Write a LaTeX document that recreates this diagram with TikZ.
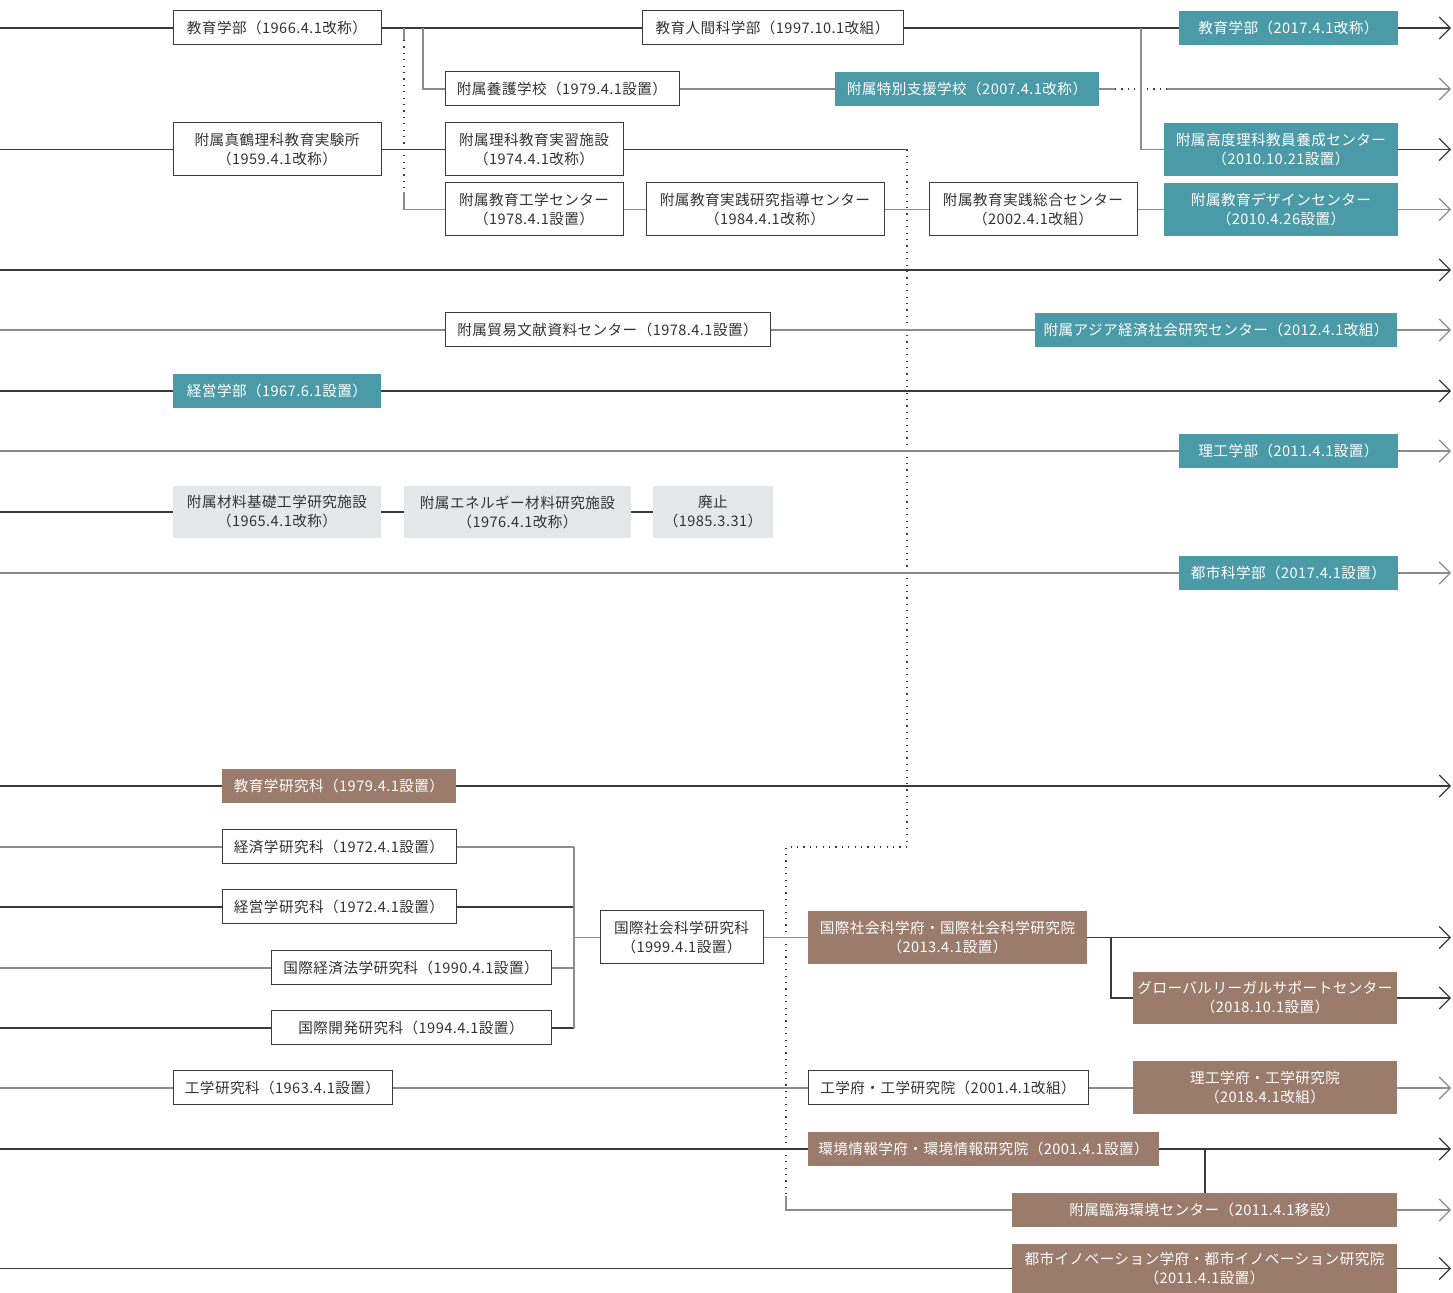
\documentclass[tikz,border=0pt]{standalone}
\usepackage{fontspec}
\setmainfont{Noto Sans CJK JP}[LetterSpace=3]
\usepackage{xcolor}
\definecolor{TealBox}{HTML}{4B9AA7}
\definecolor{BrownBox}{HTML}{9A7B6C}
\definecolor{GreyBox}{HTML}{E6E7E8}
\definecolor{InkDark}{HTML}{3A3A3A}
\definecolor{InkGrey}{HTML}{8C8C8C}
\definecolor{TextDark}{HTML}{333333}
\usepackage{tikz}
\usetikzlibrary{arrows.meta,positioning}

\begin{document}
\begin{tikzpicture}[
  x=0.5pt,y=-0.5pt,
  box/.style={align=center,font=\fontsize{7.3}{9.5}\selectfont,inner sep=0pt,minimum height=17pt},
  wbox/.style={box,draw=InkDark,fill=white,text=TextDark,line width=0.5pt},
  tbox/.style={box,fill=TealBox,text=white},
  bbox/.style={box,fill=BrownBox,text=white},
  gbox/.style={box,fill=GreyBox,text=TextDark},
  tall/.style={minimum height=26.5pt},
  dk/.style={line width=0.55pt,InkDark},
  gy/.style={line width=0.55pt,InkGrey},
  arr/.style={-{Straight Barb[length=5.5pt,width=11pt]}},
  dots/.style={line width=0.7pt,InkDark,dash pattern=on 0.6pt off 2.6pt}
]
  \useasboundingbox (0,0) rectangle (1453,1293);
  \foreach \r/\y in {a/28,b/89,c/149.5,d/209.5,e/270,f/330,g/391,h/451,i/512,j/573,k/786,l/847,m/907,n/968,o/1028,p/937.5,q/998,r/1088,s/1149,t/1210,u/1268.5}{
    \coordinate (s\r) at (0,\y);
    \coordinate (e\r) at (1451,\y);
  }

  \node[wbox,minimum width=104pt] (n1966) at (277,28) {教育学部（1966.4.1改称）};
  \node[wbox,minimum width=130.5pt] (n1997) at (772.5,28) {教育人間科学部（1997.10.1改組）};
  \node[tbox,minimum width=109.5pt] (n2017) at (1288.5,28) {教育学部（2017.4.1改称）};
  \node[wbox,minimum width=117pt] (yogo) at (562,89) {附属養護学校（1979.4.1設置）};
  \node[tbox,minimum width=132pt] (tokubetsu) at (967,89) {附属特別支援学校（2007.4.1改称）};
  \node[tbox,tall,minimum width=117pt] (koudo) at (1281,149.5) {附属高度理科教員養成センター\\（2010.10.21設置）};
  \node[wbox,tall,minimum width=104pt] (manazuru) at (277,149.5) {附属真鶴理科教育実験所\\（1959.4.1改称）};
  \node[wbox,tall,minimum width=89pt] (rika) at (534,149.5) {附属理科教育実習施設\\（1974.4.1改称）};
  \node[wbox,tall,minimum width=89pt] (kougaku) at (534,209.5) {附属教育工学センター\\（1978.4.1設置）};
  \node[wbox,tall,minimum width=119pt] (jissen84) at (765,209.5) {附属教育実践研究指導センター\\（1984.4.1改称）};
  \node[wbox,tall,minimum width=104pt] (jissen02) at (1033,209.5) {附属教育実践総合センター\\（2002.4.1改組）};
  \node[tbox,tall,minimum width=117pt] (design) at (1281,209.5) {附属教育デザインセンター\\（2010.4.26設置）};
  \node[wbox,minimum width=162.5pt] (boeki) at (607.5,330) {附属貿易文献資料センター（1978.4.1設置）};
  \node[tbox,minimum width=181pt] (asia) at (1216,330) {附属アジア経済社会研究センター（2012.4.1改組）};
  \node[tbox,minimum width=104pt] (keiei) at (277,391) {経営学部（1967.6.1設置）};
  \node[tbox,minimum width=109.5pt] (riko) at (1288.5,451) {理工学部（2011.4.1設置）};
  \node[gbox,minimum height=26pt,minimum width=104pt] (zairyo) at (277,512) {附属材料基礎工学研究施設\\（1965.4.1改称）};
  \node[gbox,minimum height=26pt,minimum width=113.5pt] (energy) at (517.5,512) {附属エネルギー材料研究施設\\（1976.4.1改称）};
  \node[gbox,minimum height=26pt,minimum width=60pt] (haishi) at (713,512) {廃止\\（1985.3.31）};
  \node[tbox,minimum width=109.5pt] (toshi) at (1288.5,573) {都市科学部（2017.4.1設置）};

  \node[bbox,minimum width=117pt] (kyoken) at (339,786) {教育学研究科（1979.4.1設置）};
  \node[wbox,minimum width=117pt] (keizaiken) at (339,847) {経済学研究科（1972.4.1設置）};
  \node[wbox,minimum width=117pt] (keieiken) at (339,907) {経営学研究科（1972.4.1設置）};
  \node[wbox,minimum width=140pt] (kokuhou) at (411,968) {国際経済法学研究科（1990.4.1設置）};
  \node[wbox,minimum width=140pt] (kaihatsu) at (411,1028) {国際開発研究科（1994.4.1設置）};
  \node[wbox,tall,minimum width=81.5pt] (kokushaken) at (681.5,937.5) {国際社会科学研究科\\（1999.4.1設置）};
  \node[bbox,tall,minimum width=139.5pt] (kokushafu) at (947.5,937.5) {国際社会科学府・国際社会科学研究院\\（2013.4.1設置）};
  \node[bbox,minimum height=26pt,minimum width=132pt] (global) at (1265,998) {グローバルリーガルサポートセンター\\（2018.10.1設置）};
  \node[wbox,minimum width=109.5pt] (kougakuken) at (282.5,1088) {工学研究科（1963.4.1設置）};
  \node[wbox,minimum width=140pt] (kougakufu) at (948,1088) {工学府・工学研究院（2001.4.1改組）};
  \node[bbox,tall,minimum width=132pt] (rikoufu) at (1265,1088) {理工学府・工学研究院\\（2018.4.1改組）};
  \node[bbox,minimum width=175.5pt] (kankyo) at (983.5,1149) {環境情報学府・環境情報研究院（2001.4.1設置）};
  \node[bbox,minimum width=192.5pt] (rinkai) at (1204.5,1210) {附属臨海環境センター（2011.4.1移設）};
  \node[bbox,minimum height=24.5pt,minimum width=192.5pt] (toshiinov) at (1204.5,1268.5) {都市イノベーション学府・都市イノベーション研究院\\（2011.4.1設置）};

  \coordinate (j1) at (423,28);
  \coordinate (j2) at (1141,28);
  \coordinate (j3) at (1111,937.5);
  \coordinate (j4) at (1205,1149);
  \coordinate (d0) at (404,28);
  \coordinate (d1) at (404,40);
  \coordinate (d2) at (404,192);
  \coordinate (t1) at (1115,89);
  \coordinate (t2) at (1167,89);
  \coordinate (k1) at (907,149.5);
  \coordinate (k2) at (907,847);
  \coordinate (k3) at (786,847);
  \coordinate (k4) at (786,1196);
  \coordinate (ml) at (574,847);
  \coordinate (mm) at (574,907);
  \coordinate (mn) at (574,968);
  \coordinate (mo) at (574,1028);
  \coordinate (mp) at (574,937.5);

  \draw[dk] (sa) -- (n1966) -- (n1997) -- (n2017);
  \draw[dk,arr] (n2017) -- (ea);
  \draw[gy] (j1) |- (yogo.west);
  \draw[gy] (yogo) -- (tokubetsu);
  \draw[gy] (tokubetsu.east) -- (t1);
  \draw[dots] (t1) -- (t2);
  \draw[gy,arr] (t2) -- (eb);
  \draw[gy] (j2) |- (koudo.west);
  \draw[dk,arr] (koudo) -- (ec);
  \draw[gy] (d0) -- (d1);
  \draw[dots] (d1) -- (d2);
  \draw[gy] (d2) |- (kougaku.west);

  \draw[dk] (sc) -- (manazuru) -- (rika);
  \draw[dk] (rika.east) -- (k1);
  \draw[dots] (k1) -- (k2) -- (k3) -- (k4);
  \draw[gy] (k4) |- (rinkai.west);

  \draw[gy] (kougaku) -- (jissen84) -- (jissen02) -- (design);
  \draw[gy,arr] (design) -- (ed);
  \draw[dk,arr] (se) -- (ee);
  \draw[gy] (sf) -- (boeki) -- (asia);
  \draw[gy,arr] (asia) -- (ef);
  \draw[dk] (sg) -- (keiei);
  \draw[dk,arr] (keiei) -- (eg);
  \draw[gy] (sh) -- (riko);
  \draw[gy,arr] (riko) -- (eh);
  \draw[dk] (si) -- (zairyo) -- (energy) -- (haishi);
  \draw[gy] (sj) -- (toshi);
  \draw[gy,arr] (toshi) -- (ej);

  \draw[dk] (sk) -- (kyoken);
  \draw[dk,arr] (kyoken) -- (ek);
  \draw[gy] (sl) -- (keizaiken) -- (ml);
  \draw[dk] (sm) -- (keieiken) -- (mm);
  \draw[gy] (sn) -- (kokuhou) -- (mn);
  \draw[dk] (so) -- (kaihatsu) -- (mo);
  \draw[gy] (ml) -- (mo);
  \draw[gy] (mp) -- (kokushaken) -- (kokushafu);
  \draw[dk,arr] (kokushafu) -- (ep);
  \draw[dk] (j3) |- (global.west);
  \draw[dk,arr] (global) -- (eq);
  \draw[gy] (sr) -- (kougakuken) -- (kougakufu) -- (rikoufu);
  \draw[gy,arr] (rikoufu) -- (er);
  \draw[dk] (ss) -- (kankyo);
  \draw[dk,arr] (kankyo) -- (es);
  \draw[dk] (j4) -- (j4 |- rinkai.north);
  \draw[gy,arr] (rinkai) -- (et);
  \draw[dk] (su) -- (toshiinov);
  \draw[dk,arr] (toshiinov) -- (eu);
\end{tikzpicture}
\end{document}
